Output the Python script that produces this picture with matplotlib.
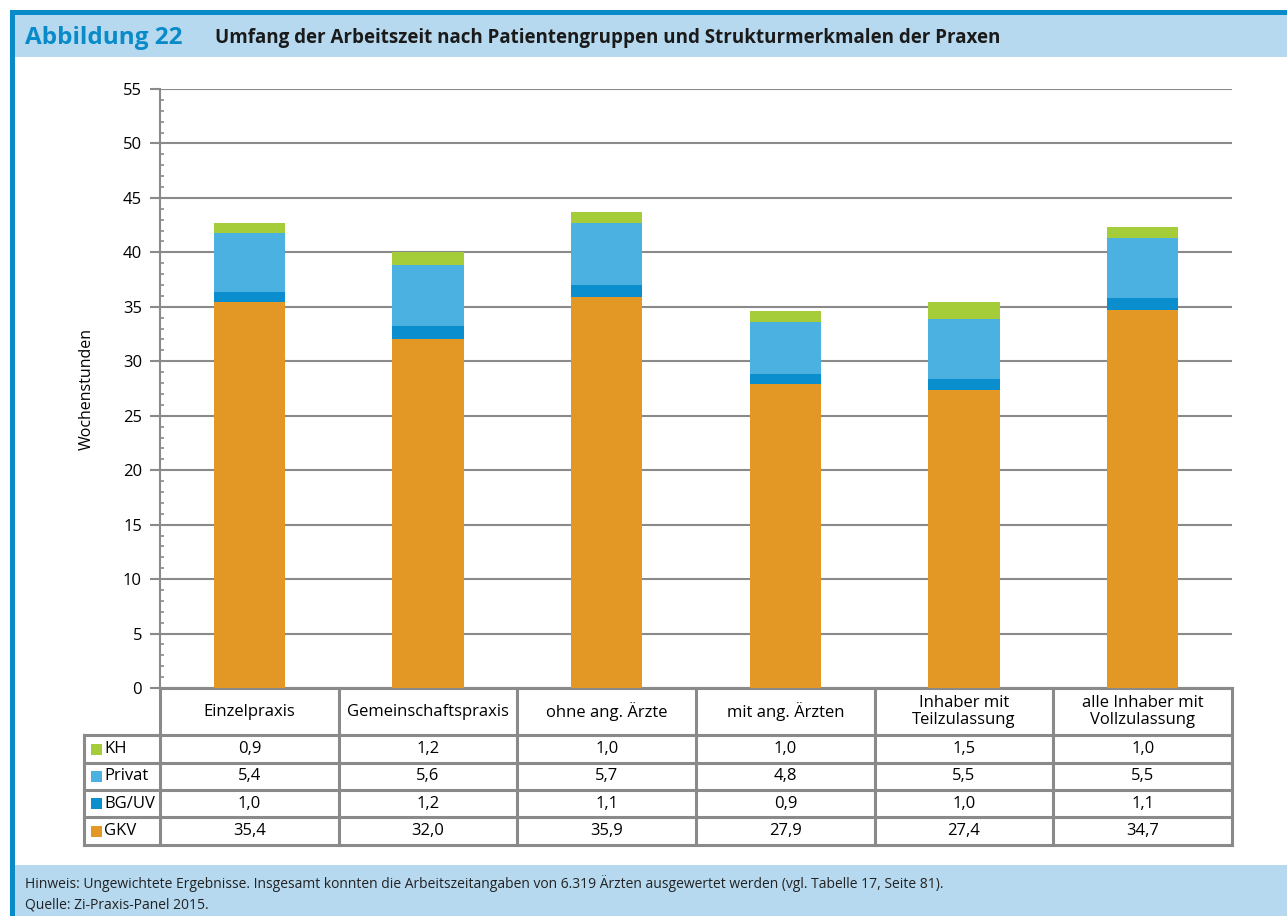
import matplotlib.pyplot as plt
from matplotlib.lines import Line2D
from matplotlib.patches import Rectangle
import matplotlib.transforms as mtransforms
import numpy as np

plt.rcParams['font.family'] = ['Open Sans', 'DejaVu Sans']

categories = ['Einzelpraxis', 'Gemeinschaftspraxis', 'ohne ang. Ärzte', 'mit ang. Ärzten',
              'Inhaber mit\nTeilzulassung', 'alle Inhaber mit\nVollzulassung']
series_names = ['GKV', 'BG/UV', 'Privat', 'KH']
gkv = [35.4, 32.0, 35.9, 27.9, 27.4, 34.7]
bguv = [1.0, 1.2, 1.1, 0.9, 1.0, 1.1]
privat = [5.4, 5.6, 5.7, 4.8, 5.5, 5.5]
kh = [0.9, 1.2, 1.0, 1.0, 1.5, 1.0]
colors = ['#E39826', '#0A8ECE', '#4BB1E0', '#A5CD39']

W, H = 1287, 916
fig = plt.figure(figsize=(W / 100, H / 100), dpi=100)

def fx(x):
    return x / W

def fy(y):
    return 1 - y / H

# frame, header and footer bands
blue = '#0A8BC9'
band = '#B6D9EF'
fig.add_artist(Rectangle((fx(15), fy(57)), fx(W - 15), 42 / H, transform=fig.transFigure,
                         facecolor=band, edgecolor='none'))
fig.add_artist(Rectangle((fx(15), 0), fx(W - 15), 51 / H, transform=fig.transFigure,
                         facecolor=band, edgecolor='none'))
fig.add_artist(Rectangle((fx(10), fy(15)), fx(W - 10), 5 / H, transform=fig.transFigure,
                         facecolor=blue, edgecolor='none'))
fig.add_artist(Rectangle((fx(10), 0), fx(5), fy(10), transform=fig.transFigure,
                         facecolor=blue, edgecolor='none'))

fig.text(fx(25), fy(38), 'Abbildung 22', color=blue, fontsize=17.5, fontweight='bold',
         va='center', ha='left')
fig.text(fx(215), fy(38), 'Umfang der Arbeitszeit nach Patientengruppen und Strukturmerkmalen der Praxen',
         color='#1a1a1a', fontsize=13.5, fontweight='bold', va='center', ha='left')

fig.text(fx(25), fy(884), 'Hinweis: Ungewichtete Ergebnisse. Insgesamt konnten die Arbeitszeitangaben von '
         '6.319 Ärzten ausgewertet werden (vgl. Tabelle 17, Seite 81).',
         fontsize=10, va='center', ha='left', color='#222222')
fig.text(fx(25), fy(905), 'Quelle: Zi-Praxis-Panel 2015.', fontsize=10, va='center', ha='left',
         color='#222222')

# chart
ax = fig.add_axes([fx(160), fy(688), (1232 - 160) / W, (688 - 89) / H])
x = np.arange(len(categories))
data = [gkv, bguv, privat, kh]
bottom = np.zeros(len(categories))
for vals, col in zip(data, colors):
    ax.bar(x, vals, width=0.4, bottom=bottom, color=col, edgecolor='none', zorder=3)
    bottom += np.array(vals)

ax.set_xlim(-0.5, len(categories) - 0.5)
ax.set_ylim(0, 55)
ax.set_yticks(np.arange(0, 56, 5))
ax.set_yticks(np.arange(0, 56, 1), minor=True)
ax.yaxis.grid(True, which='major', color='#8a8a8a', linewidth=1.5, zorder=0)
ax.tick_params(axis='y', which='major', direction='out', length=7, width=1.5, color='#8a8a8a',
               labelsize=12, pad=6)
ax.tick_params(axis='y', which='minor', direction='in', length=3, width=1.2, color='#8a8a8a')
ax.set_xticks([])
for s in ['top', 'right', 'bottom']:
    ax.spines[s].set_visible(False)
ax.spines['left'].set_color('#8a8a8a')
ax.spines['left'].set_linewidth(1.5)
ax.set_ylabel('Wochenstunden', fontsize=11.5, labelpad=20)

# data table below the axis
ph = 688 - 89
def ay(ypix):
    return (688 - ypix) / ph

trans = mtransforms.blended_transform_factory(ax.transData, ax.transAxes)
tcol = '#8a8a8a'
row_edges = [688, 735, 763, 790, 817, 845]
left_data = -0.5 - (160 - 84) / ((1232 - 160) / len(categories))
right_data = len(categories) - 0.5

# horizontal lines
for i, yp in enumerate(row_edges):
    x0 = -0.5 if i == 0 else left_data
    ax.add_line(Line2D([x0, right_data], [ay(yp), ay(yp)], transform=trans, color=tcol,
                       linewidth=2.2, clip_on=False))
# vertical lines
for k in range(len(categories) + 1):
    xv = k - 0.5
    ax.add_line(Line2D([xv, xv], [ay(688), ay(845)], transform=trans, color=tcol,
                       linewidth=2.2, clip_on=False))
ax.add_line(Line2D([left_data, left_data], [ay(735), ay(845)], transform=trans, color=tcol,
                   linewidth=2.2, clip_on=False))

for i, c in enumerate(categories):
    ax.text(i, ay((688 + 735) / 2), c, transform=trans, ha='center', va='center',
            fontsize=12, linespacing=1.15, clip_on=False)

table_rows = list(zip(series_names, data, colors))[::-1]
for r, (name, vals, col) in enumerate(table_rows):
    yc = ay((row_edges[r + 1] + row_edges[r + 2]) / 2)
    fig.add_artist(Rectangle((fx(91), yc * ph / H + fy(688) - 5.5 / H), 11 / W, 11 / H,
                             transform=fig.transFigure, facecolor=col, edgecolor='none'))
    fig.text(fx(104), yc * ph / H + fy(688), name, fontsize=12, va='center', ha='left')
    for i, v in enumerate(vals):
        ax.text(i, yc, f'{v:.1f}'.replace('.', ','), transform=trans, ha='center', va='center',
                fontsize=12, clip_on=False)

fig.savefig('out.png', dpi=100)
